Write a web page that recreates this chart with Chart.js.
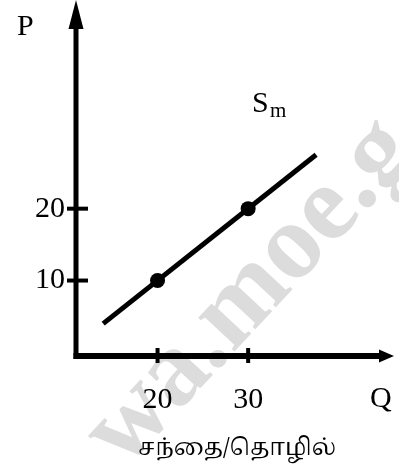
<!DOCTYPE html>
<html>
<head>
<meta charset="utf-8">
<script src="https://cdn.jsdelivr.net/npm/chart.js@4"></script>
<style>
  html, body { margin: 0; padding: 0; background: #fff; }
  canvas { display: block; }
</style>
</head>
<body>
<canvas id="supplyChart" width="399" height="468"></canvas>
<script>
const xTicks = [20, 30];
const yTicks = [10, 20];
const markedQ = [20, 30];
const markedP = [10, 20];
const lineQ = [14, 37.5];
const lineP = [4, 27.5];

const xAxisName = 'Q';
const yAxisName = 'P';
const curveName = 'S';
const curveSub = 'm';
const caption = 'சந்தை/தொழில்';

const serif = '"Liberation Serif", "Times New Roman", serif';

// axes with arrows, crossing tick marks and the free text
const sketchPlugin = {
    id: 'sketch',
    beforeDraw(chart) {
        const ctx = chart.ctx;
        ctx.save();
        ctx.translate(124, 470);
        ctx.rotate(-47 * Math.PI / 180);
        ctx.fillStyle = '#dcdcdc';
        ctx.font = 'bold 108px ' + serif;
        ctx.textBaseline = 'alphabetic';
        ctx.fillText('wa.moe.g', 0, 0);
        ctx.restore();
    },
    afterDraw(chart) {
        const ctx = chart.ctx;
        const area = chart.chartArea;
        const xs = chart.scales.x;
        const ys = chart.scales.y;
        ctx.save();
        ctx.strokeStyle = '#000';
        ctx.fillStyle = '#000';

        // y axis
        ctx.lineWidth = 5;
        ctx.beginPath();
        ctx.moveTo(area.left, area.bottom + 3);
        ctx.lineTo(area.left, area.top);
        ctx.stroke();
        ctx.beginPath();
        ctx.moveTo(area.left, 0);
        ctx.lineTo(area.left - 7.5, area.top);
        ctx.lineTo(area.left + 7.5, area.top);
        ctx.closePath();
        ctx.fill();

        // x axis
        ctx.lineWidth = 6;
        ctx.beginPath();
        ctx.moveTo(area.left - 2.5, area.bottom);
        ctx.lineTo(380, area.bottom);
        ctx.stroke();
        ctx.beginPath();
        ctx.moveTo(394, area.bottom);
        ctx.lineTo(379, area.bottom - 6.5);
        ctx.lineTo(379, area.bottom + 6.5);
        ctx.closePath();
        ctx.fill();

        // tick marks across the axes
        ctx.lineWidth = 4;
        xTicks.forEach(v => {
            const px = xs.getPixelForValue(v);
            ctx.beginPath();
            ctx.moveTo(px, area.bottom - 8);
            ctx.lineTo(px, area.bottom + 7);
            ctx.stroke();
        });
        yTicks.forEach(v => {
            const py = ys.getPixelForValue(v);
            ctx.beginPath();
            ctx.moveTo(area.left - 9, py);
            ctx.lineTo(area.left + 12, py);
            ctx.stroke();
        });

        // labels
        ctx.textBaseline = 'alphabetic';
        ctx.textAlign = 'left';
        ctx.font = '30px ' + serif;
        ctx.fillText(yAxisName, 17, 35);
        ctx.fillText(xAxisName, 370, 407);
        ctx.fillText(curveName, 252, 112);
        ctx.font = '21px ' + serif;
        ctx.fillText(curveSub, 270, 117);

        ctx.textAlign = 'center';
        ctx.font = '23px Latha, "Noto Serif Tamil", "Noto Sans Tamil", "Lohit Tamil", serif';
        ctx.fillText(caption, 237, 455);
        ctx.restore();
    }
};

new Chart(document.getElementById('supplyChart').getContext('2d'), {
    type: 'scatter',
    data: {
        datasets: [
            {
                label: 'Sm',
                data: lineQ.map((q, i) => ({ x: q, y: lineP[i] })),
                showLine: true,
                borderColor: '#000',
                borderWidth: 5,
                pointRadius: 0,
                borderCapStyle: 'butt'
            },
            {
                label: 'points',
                data: markedQ.map((q, i) => ({ x: q, y: markedP[i] })),
                showLine: false,
                backgroundColor: '#000',
                borderColor: '#000',
                pointRadius: 7.5,
                borderWidth: 0
            }
        ]
    },
    options: {
        responsive: false,
        animation: false,
        layout: { padding: { top: 15, right: 24, left: 0, bottom: 0 } },
        plugins: {
            legend: { display: false },
            tooltip: { enabled: false }
        },
        scales: {
            x: {
                type: 'linear',
                min: 11,
                max: 44,
                afterBuildTicks: s => { s.ticks = xTicks.map(v => ({ value: v })); },
                afterFit: s => { s.height = 112; },
                grid: { display: false, drawTicks: false },
                border: { display: false },
                ticks: {
                    color: '#000',
                    font: { family: serif, size: 30 },
                    padding: 26,
                    maxRotation: 0,
                    autoSkip: false
                }
            },
            y: {
                type: 'linear',
                min: -0.5,
                max: 45,
                afterBuildTicks: s => { s.ticks = yTicks.map(v => ({ value: v })); },
                afterFit: s => { s.width = 76; },
                grid: { display: false, drawTicks: false },
                border: { display: false },
                ticks: {
                    color: '#000',
                    font: { family: serif, size: 30 },
                    padding: 11,
                    autoSkip: false
                }
            }
        }
    },
    plugins: [sketchPlugin]
});
</script>
</body>
</html>
